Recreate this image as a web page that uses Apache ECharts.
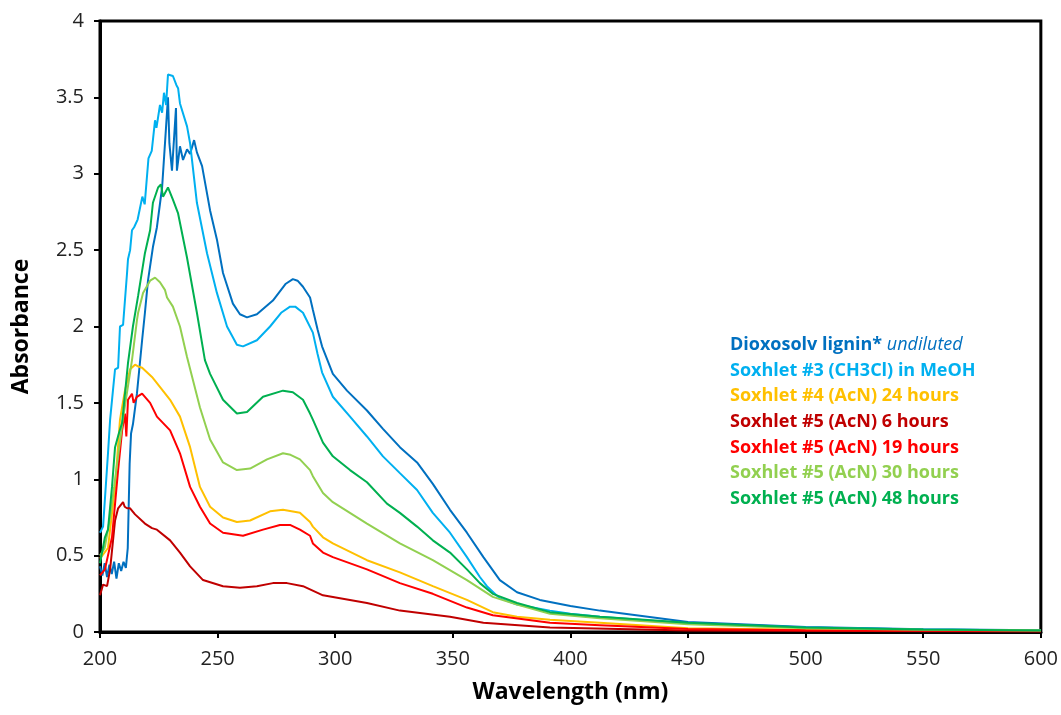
<!DOCTYPE html>
<html>
<head>
<meta charset="utf-8">
<script src="https://cdn.jsdelivr.net/npm/echarts@6/dist/echarts.min.js"></script>
<style>
  html, body { margin: 0; padding: 0; background: #fff; }
  #main { width: 1061px; height: 715px; }
</style>
</head>
<body>
<div id="main"></div>
<script>
// series names (legend order)
var seriesNames = [
    'Dioxosolv lignin* undiluted',
    'Soxhlet #3 (CH3Cl) in MeOH',
    'Soxhlet #4 (AcN) 24 hours',
    'Soxhlet #5 (AcN) 6 hours',
    'Soxhlet #5 (AcN) 19 hours',
    'Soxhlet #5 (AcN) 30 hours',
    'Soxhlet #5 (AcN) 48 hours'
];
var seriesColors = ['#0070C0', '#00B0F0', '#FFC000', '#C00000', '#FF0000', '#92D050', '#00B050'];

// [wavelength nm, absorbance]
var dioxosolv = [[200,0.43],[201,0.37],[202,0.45],[203,0.36],[204,0.44],[205,0.38],[206,0.46],[207,0.35],[208,0.45],[209,0.4],[210,0.46],[211,0.42],[211.8,0.55],[212.6,1.1],[213.2,1.3],[214,1.36],[214.6,1.37],[215.7,1.56],[217.9,1.91],[219.1,2.09],[220.4,2.3],[222.5,2.52],[224.2,2.65],[226.4,2.91],[228.1,3.31],[228.9,3.5],[229.5,3.2],[230.6,3.02],[232.3,3.43],[232.7,3.02],[234,3.18],[235.3,3.09],[237,3.16],[238.3,3.13],[240,3.22],[241.2,3.14],[243.4,3.05],[246.8,2.76],[249.7,2.57],[252.3,2.35],[256.5,2.15],[259.5,2.08],[262.5,2.06],[266.7,2.08],[273.5,2.17],[279,2.28],[282,2.31],[284,2.3],[286.3,2.26],[289.3,2.19],[290.5,2.11],[292.5,1.98],[294.4,1.87],[299,1.69],[305,1.58],[313.5,1.45],[320.3,1.33],[327.5,1.21],[334.8,1.11],[341.5,0.97],[348.8,0.8],[356,0.65],[363,0.49],[370,0.34],[377.3,0.26],[387,0.21],[400,0.17],[412.5,0.14],[450,0.066],[500,0.033],[550,0.018],[600,0.012]];
var sox3 = [[200,0.65],[201.3,0.69],[203.4,1.17],[204.3,1.39],[205.5,1.58],[206.4,1.72],[207.7,1.73],[208.5,2.0],[209.8,2.01],[211.5,2.35],[211.9,2.44],[212.8,2.5],[213.6,2.63],[214.5,2.65],[216,2.7],[218,2.85],[219,2.8],[220.6,3.1],[222,3.15],[223.4,3.35],[224,3.3],[225.5,3.45],[226.4,3.4],[227.2,3.53],[228.1,3.45],[228.9,3.65],[231,3.64],[232.5,3.58],[233.2,3.56],[234,3.46],[237,3.31],[238.3,3.2],[241.2,2.81],[245.5,2.48],[249.7,2.22],[254,2.0],[258.2,1.88],[260.8,1.87],[266.7,1.91],[272.3,2.0],[277,2.09],[280.8,2.13],[283,2.13],[286.3,2.09],[290.5,1.96],[292.5,1.82],[294.4,1.7],[299,1.54],[306.3,1.41],[313.5,1.28],[320.3,1.15],[327.5,1.04],[334.8,0.93],[341.5,0.78],[348.8,0.65],[356,0.49],[361.5,0.36],[364.5,0.3],[370,0.22],[377.3,0.18],[391.3,0.14],[400,0.12],[412.5,0.1],[450,0.055],[500,0.03],[550,0.016],[600,0.01]];
var sox4h24 = [[200,0.48],[203.4,0.55],[206.4,0.95],[208.5,1.39],[210.6,1.58],[212.8,1.72],[214.9,1.75],[216,1.74],[217.9,1.73],[222.1,1.67],[224.2,1.63],[229.8,1.52],[234,1.41],[238.3,1.21],[242.5,0.95],[246.8,0.82],[252.3,0.75],[258.2,0.72],[263.8,0.73],[272.3,0.79],[277.8,0.8],[285,0.78],[289.3,0.72],[290.5,0.69],[294.8,0.62],[299,0.58],[313.5,0.47],[327.5,0.39],[341.5,0.3],[356,0.21],[367,0.13],[377.3,0.1],[391.3,0.08],[412.5,0.06],[450,0.025],[500,0.015],[600,0.008]];
var sox5h6 = [[200,0.24],[201.3,0.31],[203,0.3],[204.3,0.41],[206.4,0.73],[207.7,0.81],[209.8,0.85],[210.5,0.82],[211.5,0.81],[212.8,0.81],[214.9,0.77],[219.1,0.71],[222.1,0.68],[224.2,0.67],[229.8,0.6],[234,0.52],[238.3,0.43],[243.8,0.34],[252.3,0.3],[259.5,0.29],[266.7,0.3],[273.5,0.32],[279.5,0.32],[286.3,0.3],[294.8,0.24],[313.5,0.19],[327.5,0.14],[348.8,0.1],[363,0.06],[391.3,0.03],[450,0.01],[600,0.004]];
var sox5h19 = [[200,0.37],[202.1,0.41],[205.1,0.62],[207.7,1.06],[209.4,1.32],[210.6,1.43],[211.2,1.28],[211.9,1.52],[213.6,1.56],[214.3,1.5],[215.7,1.54],[217.9,1.56],[221.3,1.5],[224.2,1.41],[229.8,1.32],[234,1.17],[238.3,0.95],[242.5,0.82],[246.8,0.71],[252.3,0.65],[260.8,0.63],[269.3,0.67],[276.5,0.7],[281,0.7],[285,0.67],[289.3,0.63],[290.5,0.58],[294.8,0.52],[299,0.49],[313.5,0.41],[327.5,0.32],[341.5,0.25],[356,0.16],[367,0.11],[391.3,0.06],[412.5,0.045],[450,0.02],[500,0.012],[600,0.006]];
var sox5h30 = [[200,0.5],[202,0.55],[204.3,0.75],[206,0.95],[209.8,1.4],[213.6,1.78],[215.7,2.04],[216.2,2.09],[218.3,2.22],[221.3,2.3],[223.4,2.32],[225.5,2.29],[227.6,2.24],[228.5,2.19],[231,2.13],[234,2.0],[237,1.8],[242.5,1.47],[246.8,1.26],[252.3,1.11],[258.2,1.06],[263.8,1.07],[271,1.13],[277.8,1.17],[281,1.16],[285,1.13],[289.3,1.06],[290.5,1.02],[294.8,0.91],[299,0.85],[313.5,0.71],[327.5,0.58],[341.5,0.47],[356,0.34],[367,0.23],[377.3,0.18],[391.3,0.12],[412.5,0.09],[450,0.05],[500,0.025],[550,0.014],[600,0.01]];
var sox5h48 = [[200,0.45],[202.1,0.62],[203.4,0.67],[205.1,0.95],[206.4,1.21],[208,1.3],[209.4,1.37],[211.9,1.76],[214,2.0],[216.2,2.2],[219.1,2.48],[221.3,2.63],[222.5,2.81],[224.7,2.91],[225.9,2.93],[226.8,2.85],[228.9,2.91],[231,2.83],[233.2,2.74],[237,2.45],[241.2,2.09],[244.6,1.78],[246.8,1.69],[252.3,1.52],[258.2,1.43],[262.5,1.44],[269.3,1.54],[277.8,1.58],[282,1.57],[286.3,1.52],[289.3,1.43],[290.5,1.39],[294.8,1.24],[299,1.15],[306.3,1.06],[313.5,0.98],[322,0.84],[327.5,0.78],[334.8,0.69],[341.5,0.6],[348.8,0.52],[356,0.41],[361.5,0.32],[367,0.25],[377.3,0.19],[391.3,0.13],[412.5,0.1],[450,0.06],[500,0.03],[550,0.016],[600,0.01]];

var seriesData = [dioxosolv, sox3, sox4h24, sox5h6, sox5h19, sox5h30, sox5h48];

var FONT = '"Open Sans", sans-serif';

var myChart = echarts.init(document.getElementById('main'));

var series = seriesNames.map(function (name, i) {
    return {
        name: name,
        type: 'line',
        data: seriesData[i],
        showSymbol: false,
        symbol: 'none',
        lineStyle: { width: 2, color: seriesColors[i] },
        itemStyle: { color: seriesColors[i] },
        animation: false
    };
});

var option = {
    backgroundColor: '#fff',
    grid: {
        left: 100,
        right: 20,
        top: 21,
        bottom: 83,
        show: true,
        borderColor: '#000',
        borderWidth: 3
    },
    legend: {
        orient: 'vertical',
        left: 720,
        top: 330,
        icon: 'none',
        itemWidth: 0,
        itemHeight: 0,
        itemGap: 5.6,
        selectedMode: false,
        data: seriesNames.map(function (name, i) {
            return { name: name, textStyle: { color: seriesColors[i] } };
        }),
        formatter: function (name) {
            if (name === seriesNames[0]) {
                return '{b|Dioxosolv lignin*} {i|undiluted}';
            }
            return name;
        },
        textStyle: {
            fontFamily: FONT,
            fontSize: 18,
            fontWeight: 'bold',
            lineHeight: 20,
            rich: {
                b: { fontFamily: FONT, fontSize: 18, fontWeight: 'bold', color: seriesColors[0], lineHeight: 20 },
                i: { fontFamily: FONT, fontSize: 18, fontWeight: 'normal', fontStyle: 'italic', color: seriesColors[0], lineHeight: 20 }
            }
        }
    },
    xAxis: {
        type: 'value',
        min: 200,
        max: 600,
        interval: 50,
        name: 'Wavelength (nm)',
        nameLocation: 'middle',
        nameGap: 49,
        nameTextStyle: { fontFamily: FONT, fontSize: 23, fontWeight: 'bold', color: '#000' },
        axisLine: { lineStyle: { color: '#000', width: 3 } },
        axisTick: { show: true, length: 6, lineStyle: { color: '#000', width: 2 } },
        axisLabel: { margin: 17, fontFamily: FONT, fontSize: 20, color: '#222' },
        splitLine: { show: false }
    },
    yAxis: {
        type: 'value',
        min: 0,
        max: 4,
        interval: 0.5,
        name: 'Absorbance',
        nameLocation: 'middle',
        nameGap: 67,
        nameTextStyle: { fontFamily: FONT, fontSize: 23, fontWeight: 'bold', color: '#000' },
        axisLine: { show: true, lineStyle: { color: '#000', width: 3 } },
        axisTick: { show: true, length: 6, lineStyle: { color: '#000', width: 2 } },
        axisLabel: { margin: 16, fontFamily: FONT, fontSize: 20, color: '#222' },
        splitLine: { show: false }
    },
    series: series
};

myChart.setOption(option);
</script>
</body>
</html>
